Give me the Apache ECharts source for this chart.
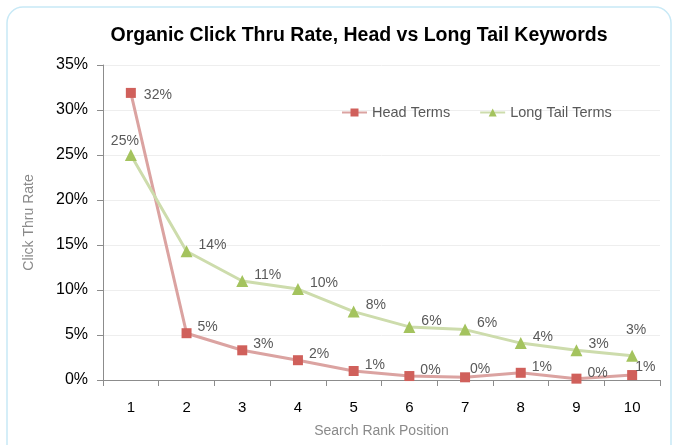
<!DOCTYPE html>
<html><head><meta charset="utf-8">
<script src="https://cdn.jsdelivr.net/npm/echarts@6/dist/echarts.min.js"></script>
<style>html,body{margin:0;padding:0;background:#fff}#c{width:675px;height:445px}</style>
</head><body><div id="c"></div>
<script>
var categories = ['1','2','3','4','5','6','7','8','9','10'];
var headTerms = [31.9, 5.2, 3.3, 2.2, 1.0, 0.44, 0.3, 0.8, 0.15, 0.55];
var longTailTerms = [25.0, 14.3, 11.0, 10.1, 7.6, 5.9, 5.6, 4.1, 3.3, 2.7];
var yTicks = [0,5,10,15,20,25,30,35];

var chart = echarts.init(document.getElementById('c'));
var lblBase = {show:true, position:'right', distance:6, offset:[0,-6], color:'#595959', fontSize:14, fontFamily:'Liberation Sans, Arial',
  formatter:function(p){return Math.round(p.value)+'%';}};
function withOverrides(arr, ov){
  return arr.map(function(v,i){ var o={value:v}; if(ov[i]) o.label=ov[i]; return o; });
}
var headData = withOverrides(headTerms, {
  0:{offset:[2,2]}, 6:{offset:[-6,-8]}, 9:{offset:[-8,-8]}
});
var tailData = withOverrides(longTailTerms, {
  0:{position:'top', offset:[-6,3], distance:4},
  9:{position:'top', offset:[4,-9], distance:4}
});
chart.setOption({
  animation:false,
  graphic:[{type:'rect', shape:{x:7,y:7,width:664,height:470,r:16}, style:{fill:'none', stroke:'#c8e9f6', lineWidth:1.5}, z:-1}],
  title:{text:'Organic Click Thru Rate, Head vs Long Tail Keywords', left:354, textAlign:'center', top:21,
    textStyle:{fontSize:19.5, fontWeight:'bold', color:'#000', fontFamily:'Liberation Sans, Arial'}},
  legend:{top:100, left:336, itemGap:29, itemWidth:25, itemHeight:10, textStyle:{fontSize:14.5, color:'#595959', fontFamily:'Liberation Sans, Arial'},
    data:['Head Terms','Long Tail Terms']},
  grid:{left:103, right:15, top:65, bottom:65},
  xAxis:{type:'category', data:categories, boundaryGap:true, name:'Search Rank Position', nameLocation:'middle', nameGap:44,
    nameTextStyle:{fontSize:14, color:'#8a8a8a', fontFamily:'Liberation Sans, Arial'},
    axisLine:{lineStyle:{color:'#8c8c8c'}}, axisTick:{show:true, length:6, lineStyle:{color:'#8c8c8c'}},
    axisLabel:{fontSize:15, color:'#000', margin:20, fontFamily:'Liberation Sans, Arial'}},
  yAxis:{type:'value', min:0, max:35, interval:5, name:'Click Thru Rate', nameLocation:'middle', nameGap:67,
    nameTextStyle:{fontSize:14, color:'#8a8a8a', fontFamily:'Liberation Sans, Arial'},
    axisLine:{show:true, lineStyle:{color:'#8c8c8c'}}, axisTick:{show:true, length:6, inside:false, lineStyle:{color:'#8c8c8c'}},
    splitLine:{lineStyle:{color:'#eeeeee'}},
    axisLabel:{fontSize:16, color:'#000', margin:15, fontFamily:'Liberation Sans, Arial', formatter:function(v){return yTicks.indexOf(v)>=0? v+'%':'';}}},
  series:[
    {name:'Head Terms', type:'line', data:headData, symbol:'rect', symbolSize:10,
     lineStyle:{color:'#dba3a1', width:3}, itemStyle:{color:'#d0605b'}, label:lblBase},
    {name:'Long Tail Terms', type:'line', data:tailData, symbol:'triangle', symbolSize:12,
     lineStyle:{color:'#cddcac', width:3}, itemStyle:{color:'#a4c35e'}, label:lblBase}
  ]
});
</script></body></html>
